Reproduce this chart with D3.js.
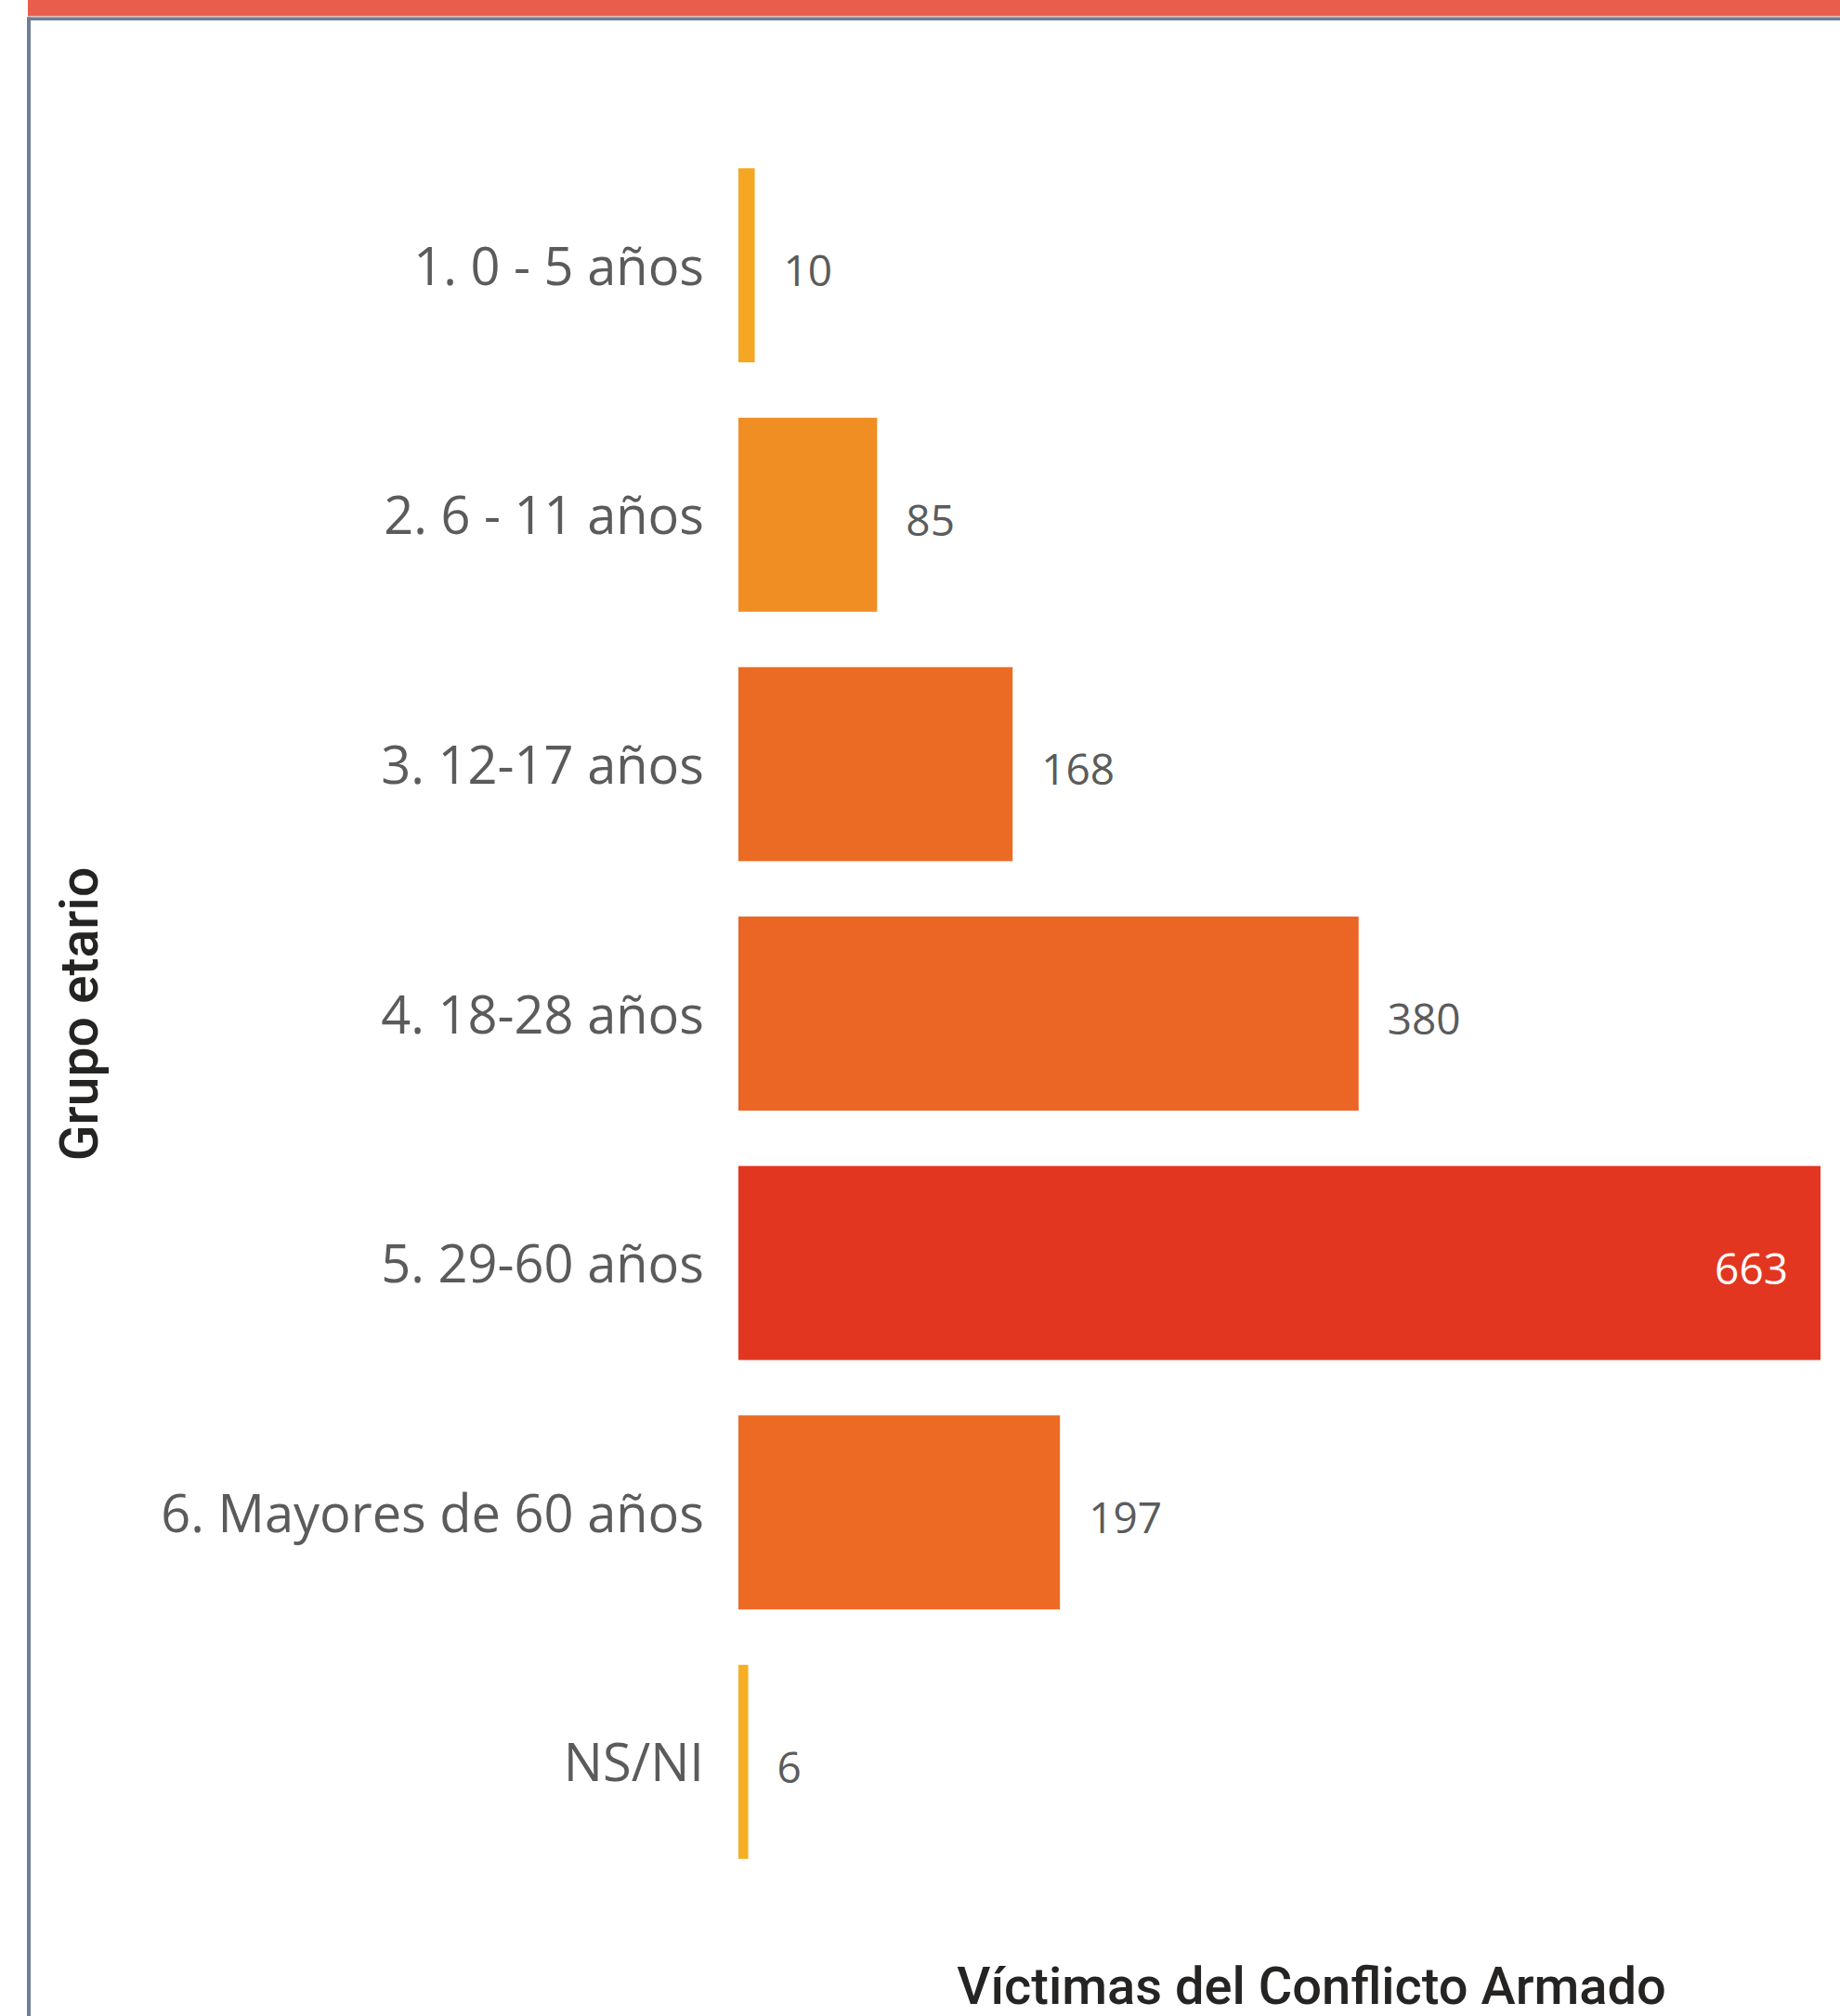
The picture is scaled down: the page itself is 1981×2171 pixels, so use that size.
<!DOCTYPE html>
<html>
<head>
<meta charset="utf-8">
<script src="https://cdn.jsdelivr.net/npm/d3@7"></script>
<style>
  html, body { margin: 0; padding: 0; background: #fff; }
  svg { display: block; }
</style>
</head>
<body>
<svg id="chart"></svg>
<script>
// Data
var groups = ["1. 0 - 5 años", "2. 6 - 11 años", "3. 12-17 años", "4. 18-28 años",
              "5. 29-60 años", "6. Mayores de 60 años", "NS/NI"];
var victims = [10, 85, 168, 380, 663, 197, 6];
var yTitle = "Grupo etario";
var xTitle = "Víctimas del Conflicto Armado";

var svgWidth = 1981;
var svgHeight = 2171;

var svg = d3.select("#chart")
  .attr("width", svgWidth)
  .attr("height", svgHeight);

// Frame: red header band, grey rule and left border
svg.append("rect")
  .attr("x", 30).attr("y", 0)
  .attr("width", svgWidth - 30).attr("height", 17)
  .attr("fill", "#E95D4D");
svg.append("rect")
  .attr("x", 30).attr("y", 17)
  .attr("width", svgWidth - 30).attr("height", 1.5)
  .attr("fill", "#E8B8B0");
svg.append("rect")
  .attr("x", 29).attr("y", 18.5)
  .attr("width", svgWidth - 29).attr("height", 3.5)
  .attr("fill", "#6F7E98");
svg.append("rect")
  .attr("x", 29).attr("y", 18.5)
  .attr("width", 4).attr("height", svgHeight - 18.5)
  .attr("fill", "#6F7E98");

var rows = groups.map(function (g, i) { return { group: g, value: victims[i] }; });

// Scales
var xScale = d3.scaleLinear()
  .domain([0, d3.max(victims)])
  .range([795, 1960]);

var yScale = d3.scaleBand()
  .domain(groups)
  .range([151.4, 2031.6])
  .paddingInner(0.222)
  .paddingOuter(0.111);

// gradient used by the report's conditional colouring
var colorScale = d3.scaleLinear()
  .domain([6, 10, 85, 168, 380, 663])
  .range(["#F6AF25", "#F5A623", "#F08E24", "#EC6B24", "#EB6524", "#E33620"]);

// Bars
svg.selectAll(".bar")
  .data(rows)
  .enter()
  .append("rect")
  .attr("class", "bar")
  .attr("x", xScale(0))
  .attr("y", function (d) { return yScale(d.group); })
  .attr("width", function (d) { return xScale(d.value) - xScale(0); })
  .attr("height", yScale.bandwidth())
  .attr("fill", function (d) { return colorScale(d.value); });

// Category labels (y axis without line/ticks)
var yAxis = svg.append("g")
  .attr("class", "axis")
  .attr("transform", "translate(" + (xScale(0) - 37) + ",0)")
  .call(d3.axisLeft(yScale).tickSize(0).tickPadding(0));
yAxis.select(".domain").remove();
yAxis.selectAll(".tick text")
  .attr("dy", null)
  .attr("y", 21)
  .style("font-family", "'Open Sans', 'Noto Sans', sans-serif")
  .style("font-size", "56px")
  .style("fill", "#5B5B5B");

// Value labels
var labels = svg.selectAll(".bar-value")
  .data(rows)
  .enter()
  .append("text")
  .attr("class", "bar-value")
  .attr("y", function (d) { return yScale(d.group) + yScale.bandwidth() / 2 + 22.5; })
  .style("font-family", "'Open Sans', 'Noto Sans', sans-serif")
  .style("font-size", "46px")
  .text(function (d) { return d.value; });

labels.each(function (d) {
  var t = d3.select(this);
  var w = this.getComputedTextLength();
  var outsideX = xScale(d.value) + 31;
  if (outsideX + w > svgWidth) {
    t.attr("x", xScale(d.value) - 35).attr("text-anchor", "end").style("fill", "#ffffff");
  } else {
    t.attr("x", outsideX).attr("text-anchor", "start").style("fill", "#5B5B5B");
  }
});

// Axis titles
svg.append("text")
  .attr("transform", "translate(105,1092) rotate(-90)")
  .attr("text-anchor", "middle")
  .style("font-family", "Roboto, 'DejaVu Sans', sans-serif")
  .style("font-weight", "500")
  .style("font-size", "57px")
  .style("fill", "#252423")
  .text(yTitle);

svg.append("text")
  .attr("x", 1412)
  .attr("y", 2158)
  .attr("text-anchor", "middle")
  .style("font-family", "Roboto, 'DejaVu Sans', sans-serif")
  .style("font-weight", "500")
  .style("font-size", "56px")
  .style("fill", "#252423")
  .text(xTitle);
</script>
</body>
</html>
